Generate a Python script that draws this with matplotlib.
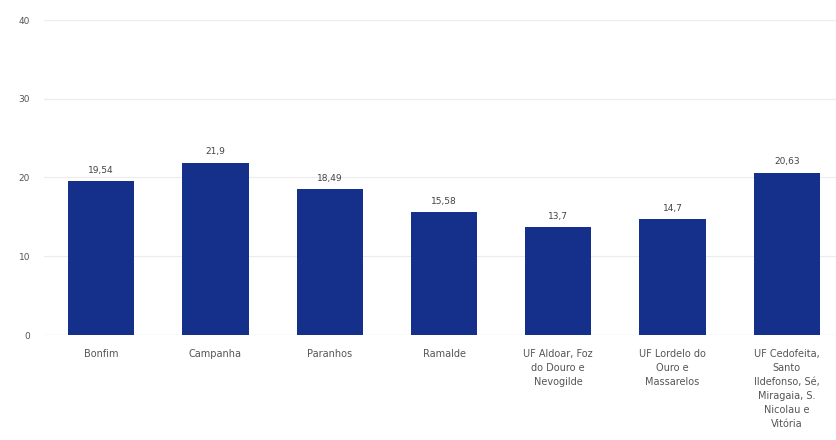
import numpy as np
import matplotlib
matplotlib.use("Agg")
from matplotlib import pyplot as plt

categories = ['Bonfim', 'Campanha', 'Paranhos', 'Ramalde',
              'UF Aldoar, Foz\ndo Douro e\nNevogilde',
              'UF Lordelo do\nOuro e\nMassarelos',
              'UF Cedofeita,\nSanto\nIldefonso, Sé,\nMiragaia, S.\nNicolau e\nVitória']
values = [19.54, 21.9, 18.49, 15.58, 13.7, 14.7, 20.63]
yticks = [0, 10, 20, 30, 40]

fig = plt.figure(figsize=(8.36, 4.40), dpi=100)
ax = fig.add_axes([44/836, 105/440, 1 - 44/836, 315/440])

x = np.arange(len(categories))
bars = ax.bar(x, values, width=0.58, color='#15308a', zorder=3)

# rótulos de valor
for xi, v in zip(x, values):
    ax.text(xi, v + 0.8, f'{v:g}'.replace('.', ','), ha='center', va='bottom',
            fontsize=6.5, color='#444444')

ax.set_xlim(-0.5, 6.43)
ax.set_ylim(0, 40)
ax.set_yticks(yticks)
ax.set_yticklabels([str(t) for t in yticks], fontsize=6.5, color='#555555')
ax.set_xticks(x)
ax.set_xticklabels(categories, fontsize=7, color='#555555', linespacing=1.5)
ax.tick_params(axis='x', length=0, pad=10)
ax.tick_params(axis='y', length=0, pad=10)
ax.yaxis.grid(True, color='#ececec', linewidth=0.8, zorder=0)
for s in ax.spines.values():
    s.set_visible(False)
ax.axhline(0, color='#d8d8d8', linewidth=0.8, zorder=2)

fig.savefig('out.png', dpi=100)
